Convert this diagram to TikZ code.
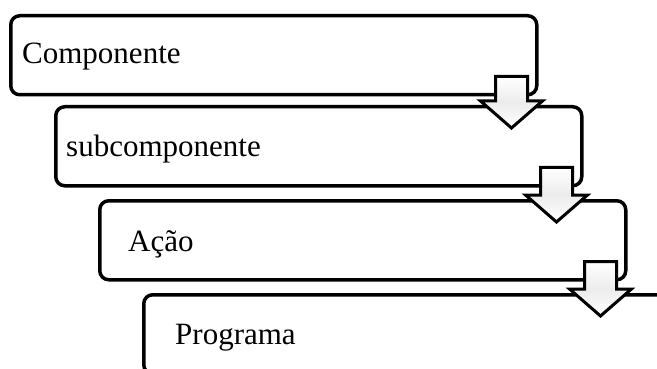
\documentclass[tikz,border=0pt]{standalone}
\usepackage{fontspec}
\setmainfont{Liberation Serif}
\usetikzlibrary{positioning,calc}

\tikzset{
  stagebox/.style={draw, line width=3.5pt, rounded corners=9pt,
    minimum width=526pt, minimum height=79pt, inner sep=0pt, anchor=north west},
  stagetext/.style={font=\fontsize{31}{36}\selectfont, inner sep=0pt, anchor=base west},
  flowarrow/.style={draw, line width=3pt, line join=miter,
    top color=white, bottom color=white, middle color=gray!15},
}

\begin{document}
\begin{tikzpicture}[x=1pt, y=1pt]

  \useasboundingbox (0,0) rectangle (657,-369);
  \clip (0,0) rectangle (657,-369);

  %%%%%%%%%%%%%%%%%%%%%%%%%%%%%%%%%%%%%%%%%%%%%%%%%
  % Boxes
  \node[stagebox] (comp) at (9,-14) {};
  \node[stagebox] (sub)  at (54,-105) {};
  \node[stagebox] (acao) at (98,-199) {};
  \node[stagebox] (prog) at (142,-293) {};

  % Labels
  \node[stagetext] (comptext) at ($(comp.west)+(13,-8.5)$) {Componente};
  \node[stagetext] (subtext)  at ($(sub.west)+(12,-10.5)$) {subcomponente};
  \node[stagetext] (acaotext) at ($(acao.west)+(30,-11)$) {Ação};
  \node[stagetext] (progtext) at ($(prog.west)+(33,-10.5)$) {Programa};

  %%%%%%%%%%%%%%%%%%%%%%%%%%%%%%%%%%%%%%%%%%%%%%%%%
  % Arrow Componente -> subcomponente
  \coordinate (top1) at ($(comp.south east)+(-27,20)$);
  \coordinate (base1) at (top1 |- sub.north);
  \draw[flowarrow] ($(top1)+(-16,0)$) -- ($(top1)+(16,0)$) -- ($(base1)+(16,4)$)
    -- ($(base1)+(31,4)$) -- ($(base1)+(0,-23)$) -- ($(base1)+(-31,4)$)
    -- ($(base1)+(-16,4)$) -- cycle;

  % Arrow subcomponente -> Ação
  \coordinate (top2) at ($(sub.south east)+(-27,20)$);
  \coordinate (base2) at (top2 |- acao.north);
  \draw[flowarrow] ($(top2)+(-16,0)$) -- ($(top2)+(16,0)$) -- ($(base2)+(16,4)$)
    -- ($(base2)+(31,4)$) -- ($(base2)+(0,-23)$) -- ($(base2)+(-31,4)$)
    -- ($(base2)+(-16,4)$) -- cycle;

  % Arrow Ação -> Programa
  \coordinate (top3) at ($(acao.south east)+(-27,20)$);
  \coordinate (base3) at (top3 |- prog.north);
  \draw[flowarrow] ($(top3)+(-16,0)$) -- ($(top3)+(16,0)$) -- ($(base3)+(16,4)$)
    -- ($(base3)+(31,4)$) -- ($(base3)+(0,-23)$) -- ($(base3)+(-31,4)$)
    -- ($(base3)+(-16,4)$) -- cycle;

\end{tikzpicture}
\end{document}
